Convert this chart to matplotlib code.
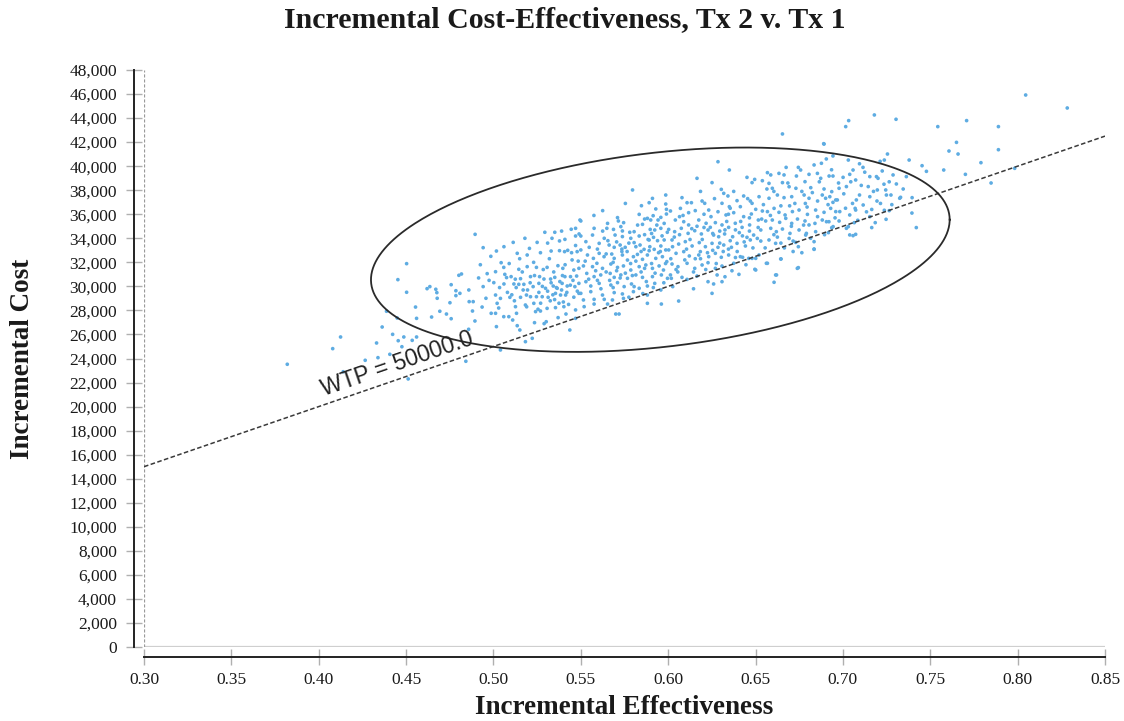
import numpy as np
import matplotlib
matplotlib.use("Agg")
import matplotlib.pyplot as plt
from matplotlib.ticker import FuncFormatter

# ---------------- data ----------------
title = "Incremental Cost-Effectiveness, Tx 2 v. Tx 1"
x_label = "Incremental Effectiveness"
y_label = "Incremental Cost"
wtp = 50000.0
wtp_label = "WTP = 50000.0"
x_ticks = [0.30, 0.35, 0.40, 0.45, 0.50, 0.55, 0.60, 0.65, 0.70, 0.75, 0.80, 0.85]
y_ticks = list(range(0, 48001, 2000))

# confidence ellipse: centre, half-extents and correlation
ell_center = (0.5955, 33050)
ell_half = (0.1656, 8500)
ell_rho = 0.294

pts_low = [(0.382,23520),(0.408,24820),(0.4125,25790),(0.414,22900),(0.4266,23850),(0.4331,25290),
(0.4363,26620),(0.4339,24070),(0.4407,24350),(0.4423,26010),(0.4449,27370),(0.4455,25480),(0.4487,25790),
(0.4476,24980),(0.4535,25510),(0.456,25790),(0.4512,22300),(0.4503,31890),(0.4453,30560),(0.4503,29510),
(0.4554,28280),(0.456,27340),(0.4388,27930),(0.462,29810),(0.4636,29980),(0.467,29760),(0.4676,29480),
(0.4646,27450),(0.4678,29010),(0.4693,27930),(0.4731,27700),(0.4758,27310),(0.4751,28640),(0.4758,30140),
(0.4785,29640),(0.4785,29230),(0.4808,29420),(0.4802,30920),(0.4817,31030),(0.4859,29700),(0.4861,28730),
(0.4884,28730),(0.488,27950),(0.4894,27120),(0.4858,26430),(0.4895,34330),(0.4941,33220),(0.4964,31060),
(0.4941,29980),(0.4935,28280),(0.4957,29010),(0.4987,27760),(0.4842,23770),(0.4925,31800),(0.4975,30500),
(0.4985,32500),(0.4915,30700)]

pts_050 = [(0.547,34830),(0.5445,34750),(0.5495,35520),(0.5294,34500),(0.5351,34500),(0.525,33660),(0.5113,33660),
(0.5409,33910),(0.5378,33780),(0.547,34190),(0.549,34360),(0.5017,32940),(0.5136,32750),(0.5193,32610),(0.5206,33160),
(0.5269,32800),(0.533,32940),(0.5378,32970),(0.5407,32890),(0.5447,32800),(0.5479,32890),(0.5044,31970),(0.5059,31580),
(0.5145,31420),(0.5193,31640),(0.5246,31580),(0.5307,31580),(0.5369,31720),(0.5397,31500),(0.546,31360),(0.5489,31500),
(0.5012,31220),(0.5075,30730),(0.5101,30810),(0.5155,30640),(0.5212,30810),(0.5264,30810),(0.5289,30610),(0.5327,30610),
(0.5351,30750),(0.5409,30810),(0.5441,30810),(0.5476,30860),(0.5002,30310),(0.5117,30200),(0.5145,30170),(0.5174,30170),
(0.5227,29980),(0.526,30250),(0.5298,29840),(0.5342,30030),(0.5365,29840),(0.5393,30250),(0.5422,30030),(0.5466,29980),
(0.5489,30250),(0.5012,29280),(0.504,29000),(0.5094,29090),(0.5155,29090),(0.5189,29280),(0.5212,29140),(0.5246,29140),
(0.5279,29140),(0.5313,29090),(0.5355,29420),(0.5384,29280),(0.5413,29280),(0.5489,29420),(0.5021,28590),(0.5126,28310),
(0.5183,28450),(0.5231,28590),(0.5307,28170),(0.5355,28230),(0.5403,28310),(0.547,28040),(0.5012,27760),(0.5059,27480),
(0.5088,27480),(0.5132,27760),(0.5241,27900),(0.5269,27950),(0.5017,26650),(0.5136,26730),(0.5151,26370),(0.5235,26980),
(0.5302,27060),(0.5437,26370),(0.547,27340),(0.5183,25400),(0.5222,25680),(0.504,24710),
(0.531,29600),(0.534,29300),(0.536,29900),(0.538,30400),(0.539,29700),(0.542,29500),(0.544,30100),(0.535,28900),
(0.533,30300),(0.540,28700),(0.528,30000),(0.526,29500),(0.521,30300),(0.517,29700),(0.513,29900),(0.508,29500),
(0.506,30200),(0.512,28800),(0.519,28300),(0.527,28600),(0.546,29100),(0.548,29600),(0.543,28500),(0.537,27400),
(0.529,26900),(0.511,27200),(0.503,28200),(0.545,32200),(0.541,31800),(0.532,32300),(0.523,32000),(0.515,32300),
(0.509,31900),(0.547,33400),(0.539,34600),(0.531,33600),(0.518,34000),(0.506,33300),
(0.5035,29900),(0.5065,31000),(0.5105,29300),(0.5125,30600),(0.5165,31200),(0.5195,29700),(0.5235,30900),(0.5255,28100),
(0.5285,31400),(0.5325,28800),(0.5345,31200),(0.5375,28600),(0.5395,30900),(0.5425,33000),(0.5455,30500),(0.5485,32100),
(0.5415,27700),(0.5335,34000)]

pts_055 = [(0.5796,38020),(0.5986,37600),(0.591,37320),(0.5891,36960),(0.5929,36440),(0.5847,36710),(0.5986,36850),
(0.599,36410),(0.5834,35990),(0.5914,35880),(0.599,36020),(0.5958,35740),(0.55,35440),(0.571,35720),(0.5715,35440),
(0.5653,35240),(0.5853,35160),(0.5881,35660),(0.59,35520),(0.5942,35520),(0.5977,35240),(0.5576,34830),(0.5649,34830),
(0.5687,34740),(0.5729,34970),(0.5738,34610),(0.578,34500),(0.5805,34550),(0.5897,34740),(0.5923,34690),(0.5958,34830),
(0.55,34190),(0.5567,34270),(0.5634,34000),(0.5696,34270),(0.5738,34140),(0.5786,34000),(0.5834,34190),(0.5891,33860),
(0.5916,34080),(0.5939,33800),(0.5977,33860),(0.5529,33720),(0.5548,33250),(0.5605,33580),(0.5662,33440),(0.5691,33250),
(0.5725,33440),(0.5754,33250),(0.5805,33640),(0.5839,33440),(0.5862,33080),(0.5891,32970),(0.592,33080),(0.5958,33360),
(0.5986,33030),(0.55,33030),(0.5538,32610),(0.5572,32330),(0.5605,32750),(0.5633,32470),(0.5677,32690),(0.5691,32330),
(0.5738,32610),(0.5767,32190),(0.5801,32470),(0.5824,32660),(0.5853,32250),(0.5881,32610),(0.5929,32330),(0.5967,32470),
(0.5992,32060),(0.5515,31700),(0.5567,31640),(0.5592,31920),(0.5624,31500),(0.5672,31860),(0.571,31580),(0.5744,31700),
(0.5786,31360),(0.5834,31640),(0.5872,31780),(0.591,31500),(0.5948,31700),(0.5973,31360),(0.5534,31080),(0.5576,30810),
(0.5614,30950),(0.5668,31080),(0.5691,30750),(0.5729,30950),(0.5767,30670),(0.5815,30950),(0.5853,30750),(0.591,30810),
(0.5961,30950),(0.5996,30670),(0.5529,30390),(0.5557,30030),(0.5605,30250),(0.5672,30110),(0.571,30310),(0.5748,29980),
(0.579,30200),(0.5805,29980),(0.5834,29840),(0.5881,30030),(0.5923,30250),(0.55,29420),(0.5557,29560),(0.5624,29280),
(0.5691,29480),(0.5738,29370),(0.5801,29560),(0.5881,29280),(0.5958,29700),(0.5515,28870),(0.5576,28920),(0.5634,28920),
(0.5653,28530),(0.5681,28870),(0.5744,29000),(0.5881,28590),(0.5961,28530),(0.5519,28310),(0.5576,28530),(0.57,27700),
(0.5719,27700),
(0.5525,32100),(0.5545,30600),(0.5585,31300),(0.5595,33100),(0.5615,29800),(0.5645,31200),(0.5655,33800),(0.5665,30500),
(0.5685,32000),(0.5705,33700),(0.5725,30700),(0.5735,32900),(0.5755,31100),(0.5775,33600),(0.5795,30900),(0.5815,32100),
(0.5825,35100),(0.5845,31200),(0.5865,34300),(0.5875,30400),(0.5895,33300),(0.5905,31900),(0.5935,35100),(0.5945,32800),
(0.5965,34200),(0.5985,31900),(0.5575,35900),(0.5625,36300),(0.5755,36900),(0.5685,29900),(0.5775,29100),(0.5855,29400),
(0.5915,29900),(0.5975,30300)]

pts_060 = [(0.6285,40370),(0.635,39680),(0.6165,38990),(0.6251,38630),(0.6451,39070),(0.648,38630),(0.6495,38900),
(0.6304,38070),(0.6318,37740),(0.6342,37520),(0.6432,37520),(0.647,37100),(0.648,36910),(0.6079,37380),(0.6108,36960),
(0.6133,36960),(0.6194,37100),(0.6209,36910),(0.6308,36910),(0.635,36630),(0.6394,37130),(0.6413,36630),(0.6013,36270),
(0.607,36490),(0.6117,36130),(0.6155,36300),(0.6232,36350),(0.6285,36210),(0.6331,35940),(0.6375,36130),(0.6432,35800),
(0.6476,36020),(0.6041,35520),(0.6089,35380),(0.6117,35110),(0.6175,35520),(0.6217,35250),(0.6241,34910),(0.627,35300),
(0.6308,35110),(0.6346,34910),(0.6384,35250),(0.6423,34910),(0.6466,35110),(0.6003,34740),(0.6037,34550),(0.6075,34830),
(0.6114,34410),(0.6152,34630),(0.619,34360),(0.6228,34690),(0.626,34270),(0.6289,34130),(0.6323,34360),(0.6369,34130),
(0.6407,34470),(0.6451,34080),(0.6489,34270),(0.6022,33860),(0.606,33520),(0.6098,33720),(0.6137,33360),(0.6178,33640),
(0.6213,33300),(0.6251,33580),(0.6285,33250),(0.6318,33440),(0.6362,33250),(0.6394,33580),(0.6442,33360),(0.647,33860),
(0.6003,33030),(0.6045,32750),(0.6089,32890),(0.6121,32530),(0.6175,32610),(0.6184,32890),(0.6232,32470),(0.627,32750),
(0.6304,32420),(0.6346,32610),(0.6413,32470),(0.6461,32330),(0.6426,32420),(0.6022,31860),(0.6056,31640),(0.6108,31920),
(0.6152,31500),(0.6194,31780),(0.6228,31970),(0.627,31500),(0.6308,31690),(0.6375,31920),(0.648,32330),(0.6013,30950),
(0.6079,30750),(0.6108,30580),(0.6165,30860),(0.628,30950),(0.6228,30390),(0.626,30200),(0.6308,30390),(0.6251,29420),
(0.606,28780),(0.6026,29980),(0.6018,30670),
(0.6015,32300),(0.6035,34100),(0.6055,31200),(0.6085,35900),(0.6095,32200),(0.6125,33900),(0.6145,31200),(0.6165,35000),
(0.6185,32300),(0.6205,34900),(0.6215,31400),(0.6245,35800),(0.6255,33000),(0.6275,31900),(0.6295,34600),(0.6315,32900),
(0.6335,35400),(0.6355,33800),(0.6365,31300),(0.6385,34700),(0.6395,32900),(0.6415,35400),(0.6435,33700),(0.6445,31800),
(0.6465,34600),(0.6485,33200),(0.6265,37300),(0.6185,37900),(0.6375,37900),(0.6455,37300),(0.6325,30800),(0.6405,31000),
(0.6145,29800),(0.6355,36500)]

pts_065 = [(0.6654,42680),(0.6892,41840),(0.6905,40600),(0.6877,40240),(0.6943,40850),(0.6745,39900),(0.6758,39680),
(0.6568,39460),(0.6587,39270),(0.6634,39400),(0.6663,39270),(0.6734,39180),(0.6806,39320),(0.6854,39400),(0.6873,38990),
(0.6921,39180),(0.6943,39180),(0.6539,38790),(0.6577,38570),(0.6596,38160),(0.6654,38630),(0.6692,38290),(0.6731,38160),
(0.6783,38710),(0.6816,38210),(0.6892,38100),(0.6936,37880),(0.6978,38160),(0.652,37460),(0.6577,37330),(0.6625,37600),
(0.6663,37380),(0.6707,37460),(0.6778,37600),(0.6806,37330),(0.6882,37600),(0.6901,37330),(0.6943,36990),(0.6968,37190),
(0.6501,36410),(0.6539,36270),(0.6568,36220),(0.6606,36490),(0.6634,36160),(0.6669,35940),(0.6711,36220),(0.6749,36350),
(0.6797,35990),(0.6844,36350),(0.6892,36160),(0.693,36490),(0.6959,36220),(0.6516,35520),(0.6558,35440),(0.6596,35520),
(0.6638,35330),(0.6673,35660),(0.6707,35240),(0.674,35600),(0.6783,35440),(0.6806,35110),(0.684,35240),(0.6882,35520),
(0.692,35380),(0.6978,35440),(0.653,34690),(0.6587,34830),(0.6619,34550),(0.6654,34770),(0.6697,34410),(0.6749,34690),
(0.6791,34410),(0.6844,34550),(0.6936,34880),(0.651,33990),(0.653,33770),(0.6577,33860),(0.6615,33580),(0.6692,33990),
(0.6715,33770),(0.673,33660),(0.6787,34270),(0.6835,33720),(0.6501,32330),(0.652,32610),(0.6568,31920),(0.6644,32280),
(0.6835,33080),(0.6739,31500),(0.6615,30950),(0.6606,30340),(0.6501,31360),
(0.6515,34900),(0.6545,36800),(0.6555,33200),(0.6585,35900),(0.6605,37900),(0.6625,34100),(0.6645,36700),(0.6665,33200),
(0.6685,38600),(0.6705,35000),(0.6725,36900),(0.6745,33300),(0.6765,37900),(0.6775,35100),(0.6795,36600),(0.6815,34000),
(0.6825,37800),(0.6855,35800),(0.6865,38700),(0.6895,34300),(0.6915,36800),(0.6935,39700),(0.6955,35700),(0.6975,38600),
(0.6565,38100),(0.6675,39900),(0.6835,40100),(0.6645,33600),(0.6765,32800),(0.6715,32900)]

pts_070 = [(0.718,44260),(0.7033,43790),(0.7016,43290),(0.7304,43900),(0.7543,43290),(0.7708,43790),(0.789,43290),
(0.789,41370),(0.765,41980),(0.7607,41260),(0.7659,41010),(0.779,40290),(0.7577,39680),(0.7701,39320),(0.7848,38600),
(0.7983,39820),(0.7478,39570),(0.7453,40040),(0.7379,40510),(0.7255,41010),(0.7237,40510),(0.7213,40400),(0.689,41870),
(0.742,34890),(0.7396,37380),(0.733,37410),(0.728,36800),(0.7247,35580),(0.7237,36330),(0.7165,34890),(0.7073,34330),
(0.7058,34220),(0.7031,34970),(0.6917,34470),(0.6835,33110),(0.6745,31560),(0.6646,32280),(0.662,30950),(0.6562,31920),
(0.6496,31420),(0.8046,45920),(0.8284,44840),(0.7031,40510),(0.7058,39680),(0.7039,39320),(0.7001,39070),(0.702,38300),
(0.7073,38850),(0.707,36490),(0.7073,36350),(0.702,34830),(0.7039,34280),(0.7154,39130),(0.7192,39130),(0.7201,38990),
(0.7287,39270),(0.7306,38520),(0.7245,38020),(0.7197,38020),(0.7154,37460),(0.7249,37600),(0.7325,37330),(0.7363,39130),
(0.7154,35800),(0.6906,35380),(0.6944,34970),(0.7077,37190),(0.7116,36770),(0.7039,35940),(0.6982,36220),(0.6959,37190),
(0.6925,37460),(0.7105,38400),(0.7135,36200),(0.7175,37900),(0.7215,36900),(0.7265,38700),(0.7225,39600),(0.7095,40200),
(0.7125,39500),(0.7345,38100),(0.7185,35300),(0.7055,36900),(0.7005,37700),(0.7085,35500),(0.7275,37600),(0.7395,36100),
(0.7015,36500),(0.7045,38700),(0.7065,35300),(0.7095,37600),(0.7115,39900),(0.7145,38300),(0.7165,36400),(0.7195,37100),
(0.7235,38500),(0.7265,36300)]

pts_core = [(0.5705,31300),(0.5735,33100),(0.5765,32900),(0.5785,31900),(0.5815,33300),(0.5845,32900),(0.5865,31500),
(0.5885,33900),(0.5905,34400),(0.5925,31100),(0.5955,32900),(0.5995,34500),(0.6025,33300),(0.6045,31400),(0.6065,34300),
(0.6105,33100),(0.6135,34800),(0.6155,32300),(0.6195,33900),(0.6225,32800),(0.6255,34400),(0.6295,33600),(0.6325,34700),
(0.6345,33100),(0.6385,32400),(0.6425,34200),(0.5645,32700),(0.5625,34600),(0.5595,30500),(0.5745,35300),(0.5865,35600),
(0.6065,35800),(0.6205,36000),(0.6345,36000),(0.6465,35700),(0.6535,35600),(0.6605,34300),(0.6695,36700),(0.6785,36900),
(0.6855,37100)]

all_pts = pts_low + pts_050 + pts_055 + pts_060 + pts_065 + pts_070 + pts_core
inc_eff = np.array([p[0] for p in all_pts])
inc_cost = np.array([p[1] for p in all_pts])

# ---------------- figure ----------------
W, H, DPI = 1124, 721, 100
fig = plt.figure(figsize=(W / DPI, H / DPI), dpi=DPI)
ax = fig.add_axes([144 / W, 1 - 647 / H, (1105 - 144) / W, (647 - 70) / H])

serif = ["Liberation Serif", "DejaVu Serif"]
txt_col = "#1a1a1a"

ax.set_xlim(0.30, 0.85)
ax.set_ylim(0, 48000)

# reference lines at the axes origin
ax.axhline(0, color="#cfcfcf", lw=1.6, zorder=1)
ax.axvline(0.30, color="#9a9a9a", lw=0.9, ls=(0, (2.5, 1.5)), zorder=1)

# scatter
ax.scatter(inc_eff, inc_cost, s=7, color="#5eace2", edgecolors="none", zorder=3)

# WTP line
xs = np.array([0.30, 0.85])
ax.plot(xs, wtp * xs, color="#3a3a3a", lw=1.1, ls=(0, (3, 1.6)), zorder=4)

# ellipse
t = np.linspace(0, 2 * np.pi, 400)
ex = ell_center[0] + ell_half[0] * np.cos(t)
ey = ell_center[1] + ell_half[1] * (ell_rho * np.cos(t) + np.sqrt(1 - ell_rho ** 2) * np.sin(t))
ax.plot(ex, ey, color="#2a2a2a", lw=1.3, zorder=5)

# WTP label rotated along the line
p1 = ax.transData.transform((0.30, wtp * 0.30))
p2 = ax.transData.transform((0.85, wtp * 0.85))
ang = np.degrees(np.arctan2(p2[1] - p1[1], p2[0] - p1[0]))
ax.text(0.4032, 20850, wtp_label, rotation=ang, rotation_mode="anchor",
        ha="left", va="baseline", fontsize=16.5, color="#222222",
        family=["Liberation Sans", "DejaVu Sans"], zorder=6)

# spines
for s in ("top", "right"):
    ax.spines[s].set_visible(False)
ax.spines["left"].set_position(("outward", 7.2))
ax.spines["bottom"].set_position(("outward", 7.2))
for s in ("left", "bottom"):
    ax.spines[s].set_color("#222222")
    ax.spines[s].set_linewidth(1.4)

ax.set_xticks(x_ticks)
ax.set_yticks(y_ticks)
ax.xaxis.set_major_formatter(FuncFormatter(lambda v, p: f"{v:.2f}"))
ax.yaxis.set_major_formatter(FuncFormatter(lambda v, p: f"{int(round(v)):,}"))
ax.tick_params(axis="both", direction="inout", length=11, width=1.0, color="#b0b0b0",
               labelsize=12.5, labelcolor=txt_col)
ax.tick_params(axis="y", pad=6.8)
ax.tick_params(axis="x", pad=5.2)
for lab in ax.get_xticklabels() + ax.get_yticklabels():
    lab.set_family(serif)

ax.set_xlabel(x_label, fontsize=19.5, fontweight="bold", family=serif, color=txt_col, labelpad=5)
ax.set_ylabel(y_label, fontsize=19.5, fontweight="bold", family=serif, color=txt_col)
ax.yaxis.set_label_coords((35 - 144) / 961, 0.5)
fig.text(565 / W, 1 - 20 / H, title, ha="center", va="center", fontsize=21.5,
         fontweight="bold", family=serif, color=txt_col)

fig.savefig("out.png", dpi=DPI)
